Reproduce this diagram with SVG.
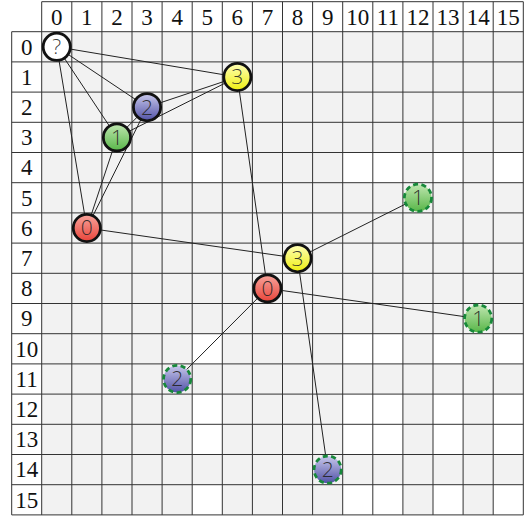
<svg xmlns="http://www.w3.org/2000/svg" width="526" height="516" viewBox="0 0 526 516">
<defs>
<linearGradient id="gY" x1="0" y1="0" x2="0" y2="1"><stop offset="0" stop-color="#ffffb8"/><stop offset="1" stop-color="#eeee10"/></linearGradient>
<linearGradient id="gR" x1="0" y1="0" x2="0" y2="1"><stop offset="0" stop-color="#f8a49c"/><stop offset="1" stop-color="#e8443a"/></linearGradient>
<linearGradient id="gG" x1="0" y1="0" x2="0" y2="1"><stop offset="0" stop-color="#bfe6b0"/><stop offset="1" stop-color="#58b648"/></linearGradient>
<linearGradient id="gB" x1="0" y1="0" x2="0" y2="1"><stop offset="0" stop-color="#c8c8ec"/><stop offset="1" stop-color="#5252a6"/></linearGradient>
</defs>
<style>
.hd{font-family:"Liberation Serif","Times New Roman",serif;font-size:23px;fill:#111;text-anchor:middle}
.grid{fill:none;stroke:#333;stroke-width:1}
.edge{stroke:#222;stroke-width:1;fill:none}
.n{stroke:#111;stroke-width:2.8}
.d{stroke:#17883a;stroke-width:2.8;stroke-dasharray:5 3.4}
.lb{font-family:"Open Sans","DejaVu Sans",sans-serif;font-weight:300;font-size:21px;fill:#222;fill-opacity:0.9;text-anchor:middle}
</style>
<rect width="526" height="516" fill="#fff"/>
<g id="board">
<rect x="41.7" y="31.7" width="481.6" height="483.2" fill="#f2f2f2"/>
<g fill="#fff">
<rect x="192.2" y="152.5" width="30.1" height="30.2"/><rect x="342.7" y="152.5" width="60.2" height="30.2"/><rect x="433" y="152.5" width="30.1" height="30.2"/><rect x="493.2" y="152.5" width="30.1" height="30.2"/>
<rect x="192.2" y="333.7" width="30.1" height="30.2"/><rect x="342.7" y="333.7" width="60.2" height="30.2"/><rect x="433" y="333.7" width="30.1" height="30.2"/><rect x="493.2" y="333.7" width="30.1" height="30.2"/>
<rect x="192.2" y="394.1" width="30.1" height="60.4"/><rect x="342.7" y="394.1" width="60.2" height="60.4"/><rect x="433" y="394.1" width="30.1" height="60.4"/><rect x="493.2" y="394.1" width="30.1" height="60.4"/>
<rect x="192.2" y="484.7" width="30.1" height="30.2"/><rect x="342.7" y="484.7" width="60.2" height="30.2"/><rect x="433" y="484.7" width="30.1" height="30.2"/><rect x="493.2" y="484.7" width="30.1" height="30.2"/>
</g>
<path class="grid" d="M41.7 1.7V514.9M71.8 1.7V514.9M101.9 1.7V514.9M132 1.7V514.9M162.1 1.7V514.9M192.2 1.7V514.9M222.3 1.7V514.9M252.4 1.7V514.9M282.5 1.7V514.9M312.6 1.7V514.9M342.7 1.7V514.9M372.8 1.7V514.9M402.9 1.7V514.9M433 1.7V514.9M463.1 1.7V514.9M493.2 1.7V514.9M523.3 1.7V514.9M11.7 31.7V514.9M41.7 1.7H523.3M11.7 31.7H523.3M11.7 61.9H523.3M11.7 92.1H523.3M11.7 122.3H523.3M11.7 152.5H523.3M11.7 182.7H523.3M11.7 212.9H523.3M11.7 243.1H523.3M11.7 273.3H523.3M11.7 303.5H523.3M11.7 333.7H523.3M11.7 363.9H523.3M11.7 394.1H523.3M11.7 424.3H523.3M11.7 454.5H523.3M11.7 484.7H523.3M11.7 514.9H523.3"/>
<g class="hd">
<text x="56.75" y="25">0</text><text x="86.85" y="25">1</text><text x="116.95" y="25">2</text><text x="147.05" y="25">3</text><text x="177.15" y="25">4</text><text x="207.25" y="25">5</text><text x="237.35" y="25">6</text><text x="267.45" y="25">7</text><text x="297.55" y="25">8</text><text x="327.65" y="25">9</text><text x="357.75" y="25">10</text><text x="387.85" y="25">11</text><text x="417.95" y="25">12</text><text x="448.05" y="25">13</text><text x="478.15" y="25">14</text><text x="508.25" y="25">15</text>
<text x="26.7" y="54.6">0</text><text x="26.7" y="84.8">1</text><text x="26.7" y="115">2</text><text x="26.7" y="145.2">3</text><text x="26.7" y="175.4">4</text><text x="26.7" y="205.6">5</text><text x="26.7" y="235.8">6</text><text x="26.7" y="266">7</text><text x="26.7" y="296.2">8</text><text x="26.7" y="326.4">9</text><text x="26.7" y="356.6">10</text><text x="26.7" y="386.8">11</text><text x="26.7" y="417">12</text><text x="26.7" y="447.2">13</text><text x="26.7" y="477.4">14</text><text x="26.7" y="507.6">15</text>
</g>
</g>
<g id="connectors" class="edge">
<line x1="56.75" y1="46.8" x2="237.35" y2="77"/>
<line x1="56.75" y1="46.8" x2="147.05" y2="107.2"/>
<line x1="56.75" y1="46.8" x2="116.95" y2="137.4"/>
<line x1="56.75" y1="46.8" x2="86.85" y2="228"/>
<line x1="237.35" y1="77" x2="147.05" y2="107.2"/>
<line x1="237.35" y1="77" x2="116.95" y2="137.4"/>
<line x1="147.05" y1="107.2" x2="116.95" y2="137.4"/>
<line x1="147.05" y1="107.2" x2="86.85" y2="228"/>
<line x1="116.95" y1="137.4" x2="86.85" y2="228"/>
<line x1="86.85" y1="228" x2="297.55" y2="258.2"/>
<line x1="237.35" y1="77" x2="267.45" y2="288.4"/>
<line x1="297.55" y1="258.2" x2="417.95" y2="197.8"/>
<line x1="297.55" y1="258.2" x2="327.65" y2="469.6"/>
<line x1="267.45" y1="288.4" x2="478.15" y2="318.6"/>
<line x1="267.45" y1="288.4" x2="177.15" y2="379"/>
</g>
<g id="nQ"><circle cx="56.75" cy="46.8" r="13.6" fill="#fff" class="n"/><text class="lb" x="56.75" y="54.2">?</text></g>
<g id="n3a"><circle cx="237.35" cy="77" r="13.6" fill="url(#gY)" class="n"/><text class="lb" x="237.35" y="84.4">3</text></g>
<g id="n2a"><circle cx="147.05" cy="107.2" r="13.6" fill="url(#gB)" class="n"/><text class="lb" x="147.05" y="114.6">2</text></g>
<g id="n1a"><circle cx="116.95" cy="137.4" r="13.6" fill="url(#gG)" class="n"/><text class="lb" x="116.95" y="144.8">1</text></g>
<g id="n0a"><circle cx="86.85" cy="228" r="13.6" fill="url(#gR)" class="n"/><text class="lb" x="86.85" y="235.4">0</text></g>
<g id="n3b"><circle cx="297.55" cy="258.2" r="13.6" fill="url(#gY)" class="n"/><text class="lb" x="297.55" y="265.6">3</text></g>
<g id="n0b"><circle cx="267.45" cy="288.4" r="13.6" fill="url(#gR)" class="n"/><text class="lb" x="267.45" y="295.8">0</text></g>
<g id="n1c"><circle cx="417.95" cy="197.8" r="13.6" fill="url(#gG)" class="d"/><text class="lb" x="417.95" y="205.2">1</text></g>
<g id="n1d"><circle cx="478.15" cy="318.6" r="13.6" fill="url(#gG)" class="d"/><text class="lb" x="478.15" y="326">1</text></g>
<g id="n2c"><circle cx="177.15" cy="379" r="13.6" fill="url(#gB)" class="d"/><text class="lb" x="177.15" y="386.4">2</text></g>
<g id="n2d"><circle cx="327.65" cy="469.6" r="13.6" fill="url(#gB)" class="d"/><text class="lb" x="327.65" y="477">2</text></g>
</svg>
